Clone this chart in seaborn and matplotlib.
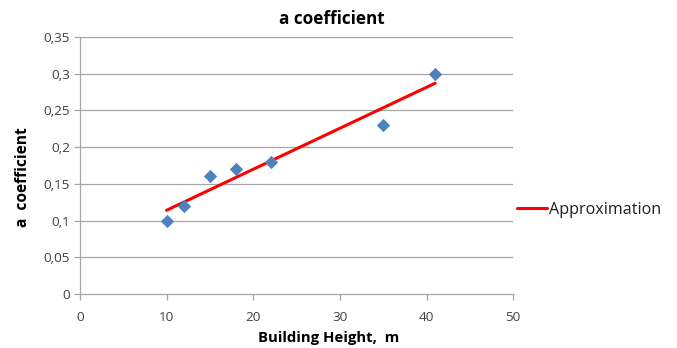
import matplotlib
matplotlib.use("Agg")
import matplotlib.pyplot as plt
import seaborn as sns
import pandas as pd

# Measured coefficient values by building height
heights = [10, 12, 15, 18, 22, 35, 41]
coeffs = [0.10, 0.12, 0.16, 0.17, 0.18, 0.23, 0.30]

# Linear approximation endpoints
approx_x = [10, 41]
approx_y = [0.114, 0.287]

x_ticks = [0, 10, 20, 30, 40, 50]
y_ticks = [0, 0.05, 0.1, 0.15, 0.2, 0.25, 0.3, 0.35]
y_tick_labels = ["0", "0,05", "0,1", "0,15", "0,2", "0,25", "0,3", "0,35"]

sns.set_theme(style="white")
plt.rcParams["font.family"] = ["Open Sans", "DejaVu Sans"]

points = pd.DataFrame({"h": heights, "a": coeffs})
line = pd.DataFrame({"h": approx_x, "a": approx_y})

fig = plt.figure(figsize=(6.77, 3.48), dpi=100)
ax = fig.add_axes([0.118, 0.155, 0.640, 0.739])

grid_color = "#a6a6a6"
for y in y_ticks[1:]:
    ax.axhline(y, color=grid_color, lw=0.9, zorder=0)

sns.scatterplot(data=points, x="h", y="a", marker="D", s=46, color="#4f81bd",
                edgecolor="#4f81bd", linewidth=0, ax=ax, zorder=3)
sns.lineplot(data=line, x="h", y="a", color="#ff0000", lw=2.2, ax=ax, zorder=2,
             label="Approximation")

ax.set_xlim(0, 50)
ax.set_ylim(0, 0.35)
ax.set_xticks(x_ticks)
ax.set_xticklabels([str(t) for t in x_ticks])
ax.set_yticks(y_ticks)
ax.set_yticklabels(y_tick_labels)

for side in ["top", "right"]:
    ax.spines[side].set_visible(False)
for side in ["left", "bottom"]:
    ax.spines[side].set_color(grid_color)
    ax.spines[side].set_linewidth(0.9)

ax.tick_params(axis="both", which="major", length=4, width=0.9, color=grid_color,
               direction="out", labelsize=9.7, labelcolor="#404040", pad=3)
ax.tick_params(axis="x", pad=8)
ax.xaxis.set_ticks_position("bottom")
ax.yaxis.set_ticks_position("left")

ax.set_xlabel("")
ax.set_ylabel("")
fig.text(0.485, 0.008, "Building Height,  m", ha="center", va="bottom",
         fontsize=10.7, fontweight="bold", color="#000000")
fig.text(0.034, 0.49, "a  coefficient", ha="center", va="center", rotation=90,
         fontsize=11.2, fontweight="bold", color="#000000")
fig.text(0.49, 0.945, "a coefficient", ha="center", va="center",
         fontsize=12.3, fontweight="bold", color="#000000")

leg = ax.legend(loc="center left", bbox_to_anchor=(0.995, 0.328), frameon=False,
                handlelength=1.85, handletextpad=0.12, fontsize=11.6, borderaxespad=0)
for t in leg.get_texts():
    t.set_color("#202020")

fig.savefig("out.png", dpi=100, facecolor="white")
